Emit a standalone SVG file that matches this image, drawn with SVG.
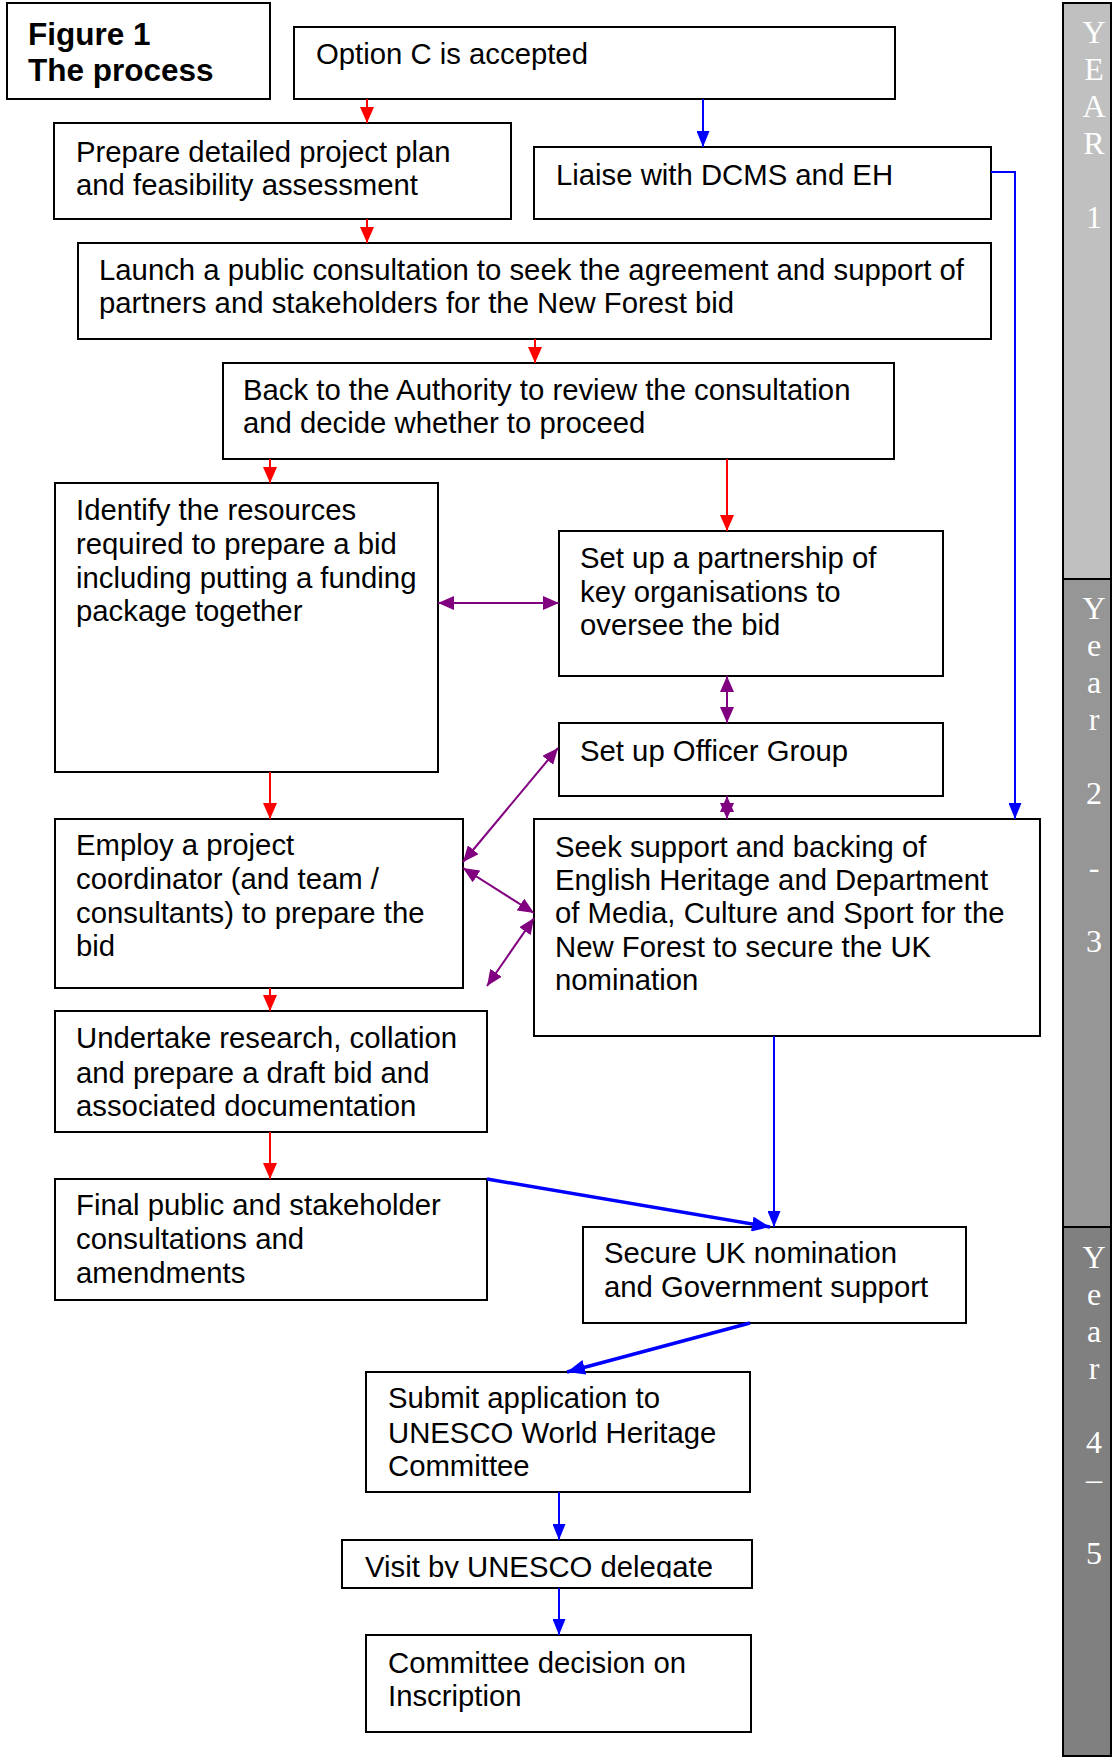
<svg xmlns="http://www.w3.org/2000/svg" width="1112" height="1760" viewBox="0 0 1112 1760">
<style>
.box{fill:#fff;stroke:#000;stroke-width:2}
.t{font-family:"Liberation Sans",Arial,sans-serif;font-size:29.3px;fill:#000}
.tb{font-family:"Liberation Sans",Arial,sans-serif;font-size:31.5px;font-weight:bold;fill:#000}
.yr{font-family:"Liberation Serif","Times New Roman",serif;font-size:32px;fill:#fff;text-anchor:middle}
.red{stroke:#f00;stroke-width:2;fill:none;marker-end:url(#ar)}
.blue{stroke:#00f;stroke-width:2;fill:none;marker-end:url(#ab)}
.blueT{stroke:#00f;stroke-width:3.5;fill:none;marker-end:url(#abt)}
.pur{stroke:#800080;stroke-width:2;fill:none;marker-start:url(#ap);marker-end:url(#ap)}
</style>
<defs>
<marker id="ar" markerUnits="userSpaceOnUse" viewBox="0 0 16 14" markerWidth="16" markerHeight="14" refX="16" refY="7" orient="auto"><path d="M0,0 L16,7 L0,14 z" fill="#f00"/></marker>
<marker id="ab" markerUnits="userSpaceOnUse" viewBox="0 0 16 13" markerWidth="16" markerHeight="13" refX="16" refY="6.5" orient="auto"><path d="M0,0 L16,6.5 L0,13 z" fill="#00f"/></marker>
<marker id="abt" markerUnits="userSpaceOnUse" viewBox="0 0 18 15" markerWidth="18" markerHeight="15" refX="18" refY="7.5" orient="auto"><path d="M0,0 L18,7.5 L0,15 z" fill="#00f"/></marker>
<marker id="ap" markerUnits="userSpaceOnUse" viewBox="0 0 16 14" markerWidth="16" markerHeight="14" refX="16" refY="7" orient="auto-start-reverse"><path d="M0,0 L16,7 L0,14 z" fill="#800080"/></marker>
<clipPath id="visitClip"><rect x="343" y="1541" width="409" height="37"/></clipPath>
</defs>
<rect width="1112" height="1760" fill="#fff"/>

<g id="year-bar">
<rect x="1063" y="3" width="48" height="576" fill="#c0c0c0" stroke="#000" stroke-width="2"/>
<rect x="1063" y="579" width="48" height="648" fill="#969696" stroke="#000" stroke-width="2"/>
<rect x="1063" y="1227" width="48" height="529" fill="#808080" stroke="#000" stroke-width="2"/>
<text class="yr" x="1094" y="43">Y</text>
<text class="yr" x="1094" y="80">E</text>
<text class="yr" x="1094" y="117">A</text>
<text class="yr" x="1094" y="154">R</text>
<text class="yr" x="1094" y="228">1</text>
<text class="yr" x="1094" y="619">Y</text>
<text class="yr" x="1094" y="656">e</text>
<text class="yr" x="1094" y="693">a</text>
<text class="yr" x="1094" y="730">r</text>
<text class="yr" x="1094" y="804">2</text>
<text class="yr" x="1094" y="878">-</text>
<text class="yr" x="1094" y="952">3</text>
<text class="yr" x="1094" y="1268">Y</text>
<text class="yr" x="1094" y="1305">e</text>
<text class="yr" x="1094" y="1342">a</text>
<text class="yr" x="1094" y="1379">r</text>
<text class="yr" x="1094" y="1453">4</text>
<text class="yr" x="1094" y="1490">–</text>
<text class="yr" x="1094" y="1564">5</text>
</g>

<g id="title">
<rect class="box" x="7" y="3" width="263" height="96"/>
<text class="tb" x="28" y="45">Figure 1</text>
<text class="tb" x="28" y="81">The process</text>
</g>

<g id="n-option-c">
<rect class="box" x="294" y="27" width="601" height="72"/>
<text class="t" x="316" y="64">Option C is accepted</text>
</g>

<g id="n-prepare">
<rect class="box" x="54" y="123" width="457" height="96"/>
<text class="t" x="76" y="162">Prepare detailed project plan</text>
<text class="t" x="76" y="195">and feasibility assessment</text>
</g>

<g id="n-liaise">
<rect class="box" x="534" y="147" width="457" height="72"/>
<text class="t" x="556" y="185">Liaise with DCMS and EH</text>
</g>

<g id="n-launch">
<rect class="box" x="78" y="243" width="913" height="96"/>
<text class="t" x="99" y="280">Launch a public consultation to seek the agreement and support of</text>
<text class="t" x="99" y="313">partners and stakeholders for the New Forest bid</text>
</g>

<g id="n-back">
<rect class="box" x="223" y="363" width="671" height="96"/>
<text class="t" x="243" y="400">Back to the Authority to review the consultation</text>
<text class="t" x="243" y="433">and decide whether to proceed</text>
</g>

<g id="n-identify">
<rect class="box" x="55" y="483" width="383" height="289"/>
<text class="t" x="76" y="520">Identify the resources</text>
<text class="t" x="76" y="554">required to prepare a bid</text>
<text class="t" x="76" y="588">including putting a funding</text>
<text class="t" x="76" y="621">package together</text>
</g>

<g id="n-partnership">
<rect class="box" x="559" y="531" width="384" height="145"/>
<text class="t" x="580" y="568">Set up a partnership of</text>
<text class="t" x="580" y="602">key organisations to</text>
<text class="t" x="580" y="635">oversee the bid</text>
</g>

<g id="n-officer">
<rect class="box" x="559" y="723" width="384" height="73"/>
<text class="t" x="580" y="761">Set up Officer Group</text>
</g>

<g id="n-employ">
<rect class="box" x="55" y="819" width="408" height="169"/>
<text class="t" x="76" y="855">Employ a project</text>
<text class="t" x="76" y="889">coordinator (and team /</text>
<text class="t" x="76" y="923">consultants) to prepare the</text>
<text class="t" x="76" y="956">bid</text>
</g>

<g id="n-seek">
<rect class="box" x="534" y="819" width="506" height="217"/>
<text class="t" x="555" y="857">Seek support and backing of</text>
<text class="t" x="555" y="890">English Heritage and Department</text>
<text class="t" x="555" y="923">of Media, Culture and Sport for the</text>
<text class="t" x="555" y="957">New Forest to secure the UK</text>
<text class="t" x="555" y="990">nomination</text>
</g>

<g id="n-undertake">
<rect class="box" x="55" y="1011" width="432" height="121"/>
<text class="t" x="76" y="1048">Undertake research, collation</text>
<text class="t" x="76" y="1083">and prepare a draft bid and</text>
<text class="t" x="76" y="1116">associated documentation</text>
</g>

<g id="n-final">
<rect class="box" x="55" y="1179" width="432" height="121"/>
<text class="t" x="76" y="1215">Final public and stakeholder</text>
<text class="t" x="76" y="1249">consultations and</text>
<text class="t" x="76" y="1283">amendments</text>
</g>

<g id="n-secure">
<rect class="box" x="583" y="1227" width="383" height="96"/>
<text class="t" x="604" y="1263">Secure UK nomination</text>
<text class="t" x="604" y="1297">and Government support</text>
</g>

<g id="n-submit">
<rect class="box" x="366" y="1372" width="384" height="120"/>
<text class="t" x="388" y="1408">Submit application to</text>
<text class="t" x="388" y="1443">UNESCO World Heritage</text>
<text class="t" x="388" y="1476">Committee</text>
</g>

<g id="n-visit">
<rect class="box" x="342" y="1540" width="410" height="48"/>
<text class="t" x="365" y="1577" clip-path="url(#visitClip)">Visit by UNESCO delegate</text>
</g>

<g id="n-committee">
<rect class="box" x="366" y="1635" width="385" height="97"/>
<text class="t" x="388" y="1673">Committee decision on</text>
<text class="t" x="388" y="1706">Inscription</text>
</g>

<g id="connectors">
<line class="red" x1="367" y1="99" x2="367" y2="123"/>
<line class="red" x1="367" y1="219" x2="367" y2="243"/>
<line class="red" x1="535" y1="339" x2="535" y2="363"/>
<line class="red" x1="270" y1="459" x2="270" y2="483"/>
<line class="red" x1="727" y1="459" x2="727" y2="531"/>
<line class="red" x1="270" y1="772" x2="270" y2="819"/>
<line class="red" x1="270" y1="988" x2="270" y2="1011"/>
<line class="red" x1="270" y1="1132" x2="270" y2="1179"/>

<line class="blue" x1="703" y1="99" x2="703" y2="147"/>
<polyline class="blue" points="991,172 1015,172 1015,819"/>
<line class="blue" x1="774" y1="1036" x2="774" y2="1227"/>
<line class="blue" x1="559" y1="1492" x2="559" y2="1540"/>
<line class="blue" x1="559" y1="1588" x2="559" y2="1635"/>
<line class="blueT" x1="487" y1="1179" x2="770" y2="1227"/>
<line class="blueT" x1="750" y1="1323" x2="567" y2="1372"/>

<line class="pur" x1="438" y1="603" x2="559" y2="603"/>
<line class="pur" x1="727" y1="676" x2="727" y2="723"/>
<line class="pur" x1="727" y1="796" x2="727" y2="819"/>
<line class="pur" x1="463" y1="862" x2="558" y2="748"/>
<line class="pur" x1="463" y1="868" x2="534" y2="913"/>
<line class="pur" x1="534" y1="918" x2="487" y2="986"/>
</g>
</svg>
